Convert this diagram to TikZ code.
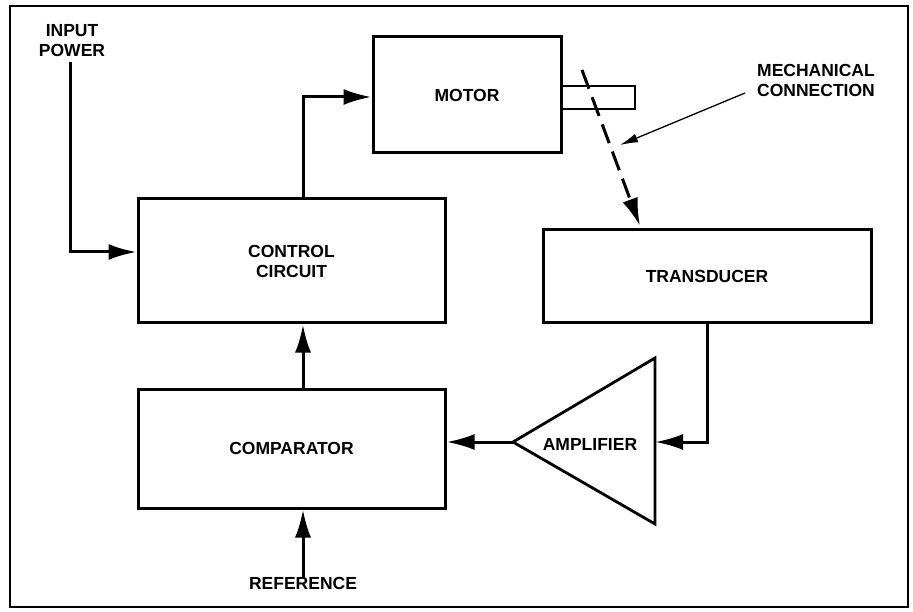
\documentclass[tikz,border=0pt]{standalone}
\usepackage{fontspec}
\setmainfont{Liberation Sans}
\usetikzlibrary{arrows.meta}
\begin{document}
\begin{tikzpicture}[x=1pt,y=-1pt,
  every node/.style={font=\fontsize{17.5}{20}\selectfont\bfseries, align=center, inner sep=0pt},
  blockbox/.style={draw, line width=3pt, minimum width=#1},
  conn/.style={line width=3pt, -{Latex[length=28pt,width=16pt]}},
  dashconn/.style={line width=3pt, dash pattern=on 20pt off 9pt, -{Latex[length=28pt,width=16pt]}},
  thinconn/.style={line width=1.3pt, -{Latex[length=18pt,width=9pt]}}
]
\useasboundingbox (0,0) rectangle (913,612);
\draw[line width=1.6pt] (10,6) rectangle (908,607);

% blocks
\node[blockbox=188pt, minimum height=116pt] (motor) at (467,95) {MOTOR};
\node[blockbox=307pt, minimum height=124pt] (control) at (291.5,261) {CONTROL\\CIRCUIT};
\node[blockbox=307pt, minimum height=119pt] (comparator) at (291.5,448.5) {COMPARATOR};
\node[blockbox=328pt, minimum height=93pt] (transducer) at (707,276.5) {TRANSDUCER};

% motor shaft
\draw[line width=2.8pt] (motor.east |- 0,86) -- (635,86) -- (635,109) -- (motor.east |- 0,109);

% amplifier triangle
\coordinate (ampout) at (513,442);
\coordinate (amptop) at (655,358);
\coordinate (ampbot) at (655,524);
\coordinate (ampin) at (655,442);
\draw[line width=2.8pt, line join=miter] (ampout) -- (amptop) -- (ampbot) -- cycle;
\node (amplifier) at (590,444) {AMPLIFIER};

% labels
\node (inp) at (72,41) {INPUT\\POWER};
\node (ref) at (303,583) {REFERENCE};
\node (mech) at (816,80) {MECHANICAL\\CONNECTION};

% connectors
\coordinate (inpstart) at (70,62);
\draw[conn] (inpstart) |- ([yshift=9pt]control.west);
\draw[conn] ([xshift=11.5pt]control.north) |- ([yshift=-2pt]motor.west);
\draw[conn] ([xshift=11.5pt]comparator.north) -- ([xshift=11.5pt]control.south);
\draw[conn] ([yshift=-2pt]ref.north) -- ([xshift=11.5pt]comparator.south);
\draw[conn] (transducer.south) |- (ampin);
\draw[conn] (ampout) -- (ampout -| comparator.east);

% mechanical connection
\coordinate (ms) at (582,70);
\coordinate (mt) at (640,226);
\draw[dashconn] (ms) -- (mt);
\coordinate (mlstart) at (745,93);
\coordinate (mltip) at (620,145);
\draw[thinconn] (mlstart) -- (mltip);
\end{tikzpicture}
\end{document}
